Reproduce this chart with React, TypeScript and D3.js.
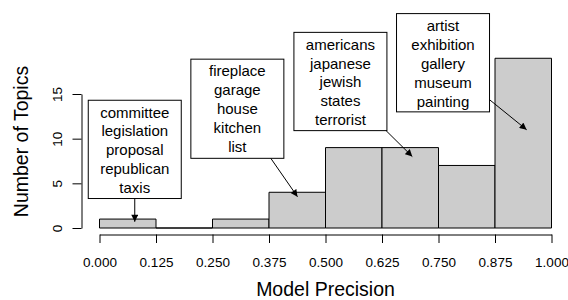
import React, { useEffect, useRef } from "react";
import * as d3 from "d3";

// histogram of model precision per topic
const binEdges = [0, 0.125, 0.25, 0.375, 0.5, 0.625, 0.75, 0.875, 1.0];
const binCounts = [1, 0, 1, 4, 9, 9, 7, 19];
const yTicks = [0, 5, 10, 15];

// annotation boxes (precision / count units)
const annoWords = [
  ["committee", "legislation", "proposal", "republican", "taxis"],
  ["fireplace", "garage", "house", "kitchen", "list"],
  ["americans", "japanese", "jewish", "states", "terrorist"],
  ["artist", "exhibition", "gallery", "museum", "painting"],
];
const annoBoxX = [0.078, 0.305, 0.533, 0.76];
const annoBoxTop = [14.3, 18.9, 21.9, 24.0];
const annoBoxBottom = [3.3, 7.8, 10.9, 13.0];
const arrowFromX = [0.078, 0.379, 0.634, 0.862];
const arrowFromY = [3.3, 7.8, 10.9, 14.4];
const arrowToX = [0.078, 0.438, 0.692, 0.945];
const arrowToY = [0.7, 3.5, 8.0, 11.0];

const W = 568;
const H = 300;
const FONT = "'Liberation Sans', Arial, Helvetica, sans-serif";

const App: React.FC = () => {
  const svgRef = useRef<SVGSVGElement | null>(null);

  useEffect(() => {
    if (!svgRef.current) return;
    const svg = d3.select(svgRef.current);
    svg.selectAll("*").remove();

    const x = d3.scaleLinear().domain([0, 1]).range([99.5, 551.5]);
    const y = d3.scaleLinear().domain([0, 15]).range([228, 94]);

    svg.append("defs")
      .append("marker")
      .attr("id", "head")
      .attr("viewBox", "0 0 10 10")
      .attr("refX", 10)
      .attr("refY", 5)
      .attr("markerUnits", "userSpaceOnUse")
      .attr("markerWidth", 8)
      .attr("markerHeight", 7)
      .attr("orient", "auto")
      .append("path")
      .attr("d", "M0,0 L10,5 L0,10 Z")
      .attr("fill", "black");

    // bars as paths so that an empty bin still leaves its base line
    svg.append("g")
      .selectAll("path")
      .data(binCounts)
      .join("path")
      .attr("d", (d, i) => {
        const x0 = x(binEdges[i]);
        const x1 = x(binEdges[i + 1]);
        return `M${x0},${y(0)}H${x1}V${y(d)}H${x0}Z`;
      })
      .attr("fill", "#cccccc")
      .attr("stroke", "black")
      .attr("stroke-width", 1);

    // x axis
    const xAxis = svg.append("g")
      .attr("transform", "translate(0,234.5)")
      .call(d3.axisBottom(x).tickValues(binEdges).tickFormat(d3.format(".3f")).tickSize(8.5).tickSizeOuter(0).tickPadding(14));
    xAxis.select(".domain").attr("stroke", "black");
    xAxis.selectAll("line").attr("stroke", "black");
    xAxis.selectAll("text")
      .attr("font-family", FONT)
      .attr("font-size", 13.5)
      .attr("fill", "black")
      .attr("dy", "0.71em");
    xAxis.attr("font-family", null).attr("font-size", null);

    // y axis
    const yAxis = svg.append("g")
      .attr("transform", "translate(81.5,0)")
      .call(d3.axisLeft(y).tickValues(yTicks).tickSize(9).tickSizeOuter(0));
    yAxis.select(".domain").attr("stroke", "black");
    yAxis.selectAll("line").attr("stroke", "black");
    yAxis.selectAll("text")
      .attr("font-family", FONT)
      .attr("font-size", 13.5)
      .attr("fill", "black")
      .attr("text-anchor", "middle")
      .attr("transform", "rotate(-90)")
      .attr("x", 0)
      .attr("y", -20)
      .attr("dy", 0);
    yAxis.attr("font-family", null).attr("font-size", null);

    // axis titles
    svg.append("text")
      .attr("x", (x(0) + x(1)) / 2)
      .attr("y", 296)
      .attr("text-anchor", "middle")
      .attr("font-family", FONT)
      .attr("font-size", 19.5)
      .text("Model Precision");

    svg.append("text")
      .attr("transform", `translate(27.5,${(63 + 220) / 2}) rotate(-90)`)
      .attr("text-anchor", "middle")
      .attr("font-family", FONT)
      .attr("font-size", 19.5)
      .text("Number of Topics");

    // annotations
    const boxW = 93;
    annoWords.forEach((words, i) => {
      const cx = x(annoBoxX[i]);
      const top = y(annoBoxTop[i]);
      const bottom = y(annoBoxBottom[i]);
      const g = svg.append("g");
      g.append("rect")
        .attr("x", cx - boxW / 2)
        .attr("y", top)
        .attr("width", boxW)
        .attr("height", bottom - top)
        .attr("fill", "white")
        .attr("stroke", "black");
      g.selectAll("text")
        .data(words)
        .join("text")
        .attr("x", cx)
        .attr("y", (_, j) => top + 17.3 + j * 18.9)
        .attr("text-anchor", "middle")
        .attr("font-family", FONT)
        .attr("font-size", 15)
        .text(d => d);
      svg.append("line")
        .attr("x1", x(arrowFromX[i]))
        .attr("y1", y(arrowFromY[i]))
        .attr("x2", x(arrowToX[i]))
        .attr("y2", y(arrowToY[i]))
        .attr("stroke", "black")
        .attr("stroke-width", 1)
        .attr("marker-end", "url(#head)");
    });
  }, []);

  return (
    <div style={{ position: "absolute", left: 0, top: 0 }}>
      <svg ref={svgRef} width={W} height={H} style={{ display: "block", background: "white" }} />
    </div>
  );
};

export default App;
